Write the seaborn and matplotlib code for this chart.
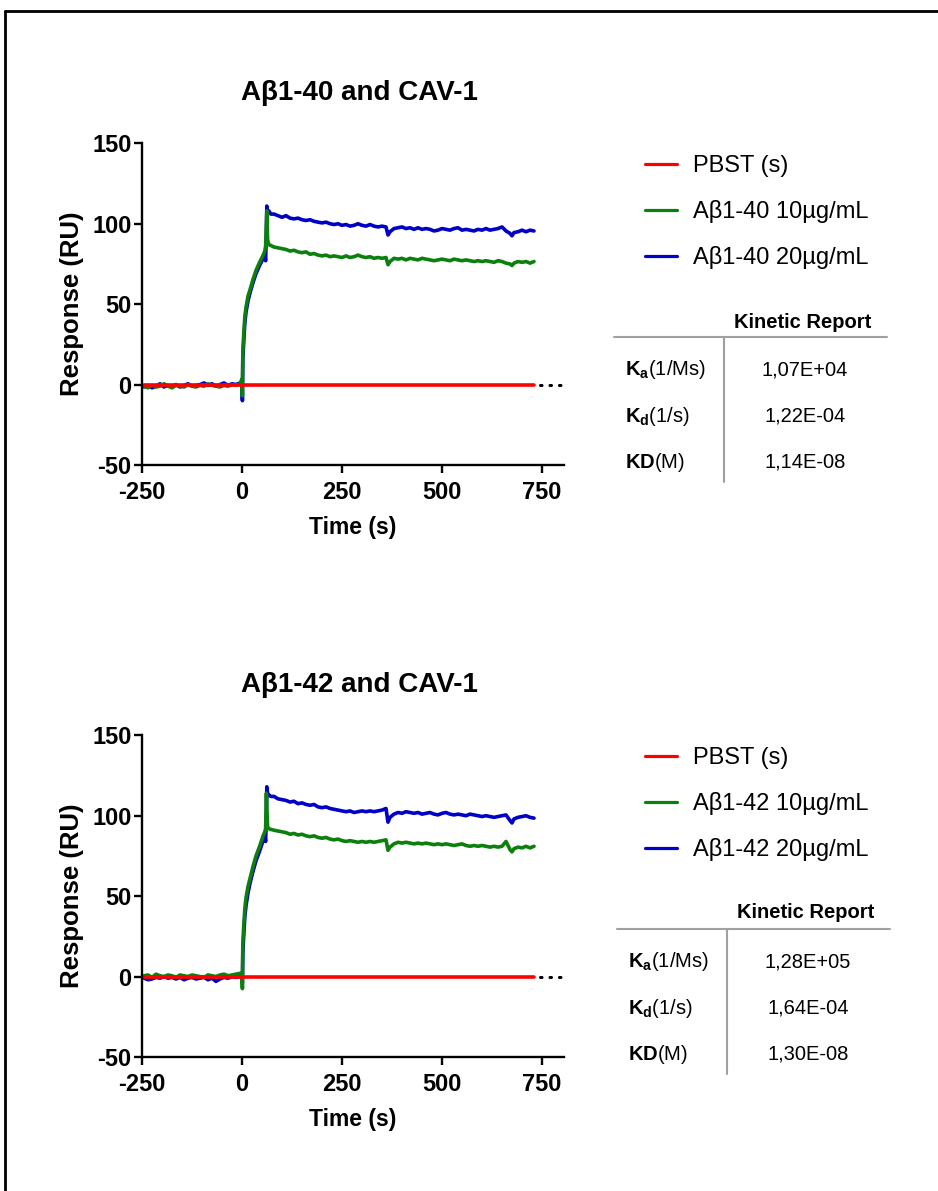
import pandas as pd
import matplotlib
matplotlib.use('Agg')
import matplotlib.pyplot as plt
from matplotlib.lines import Line2D
import seaborn as sns

W, H = 938, 1191

# sampling times (s) shared by the sensorgram traces
time_s = [-245, -235, -225, -215, -205, -195, -185, -175, -165, -155, -145, -135, -125,
          -115, -105, -95, -85, -75, -65, -55, -45, -35, -25, -15, -5,
          0, 1, 2, 4, 7, 10, 15, 20, 27, 35, 44, 52, 57, 59, 61, 62, 64, 67, 72, 80, 90,
          100, 110, 120, 130, 140, 150, 160, 170, 180, 190, 200, 210, 220, 230, 240, 250,
          260, 270, 280, 290, 300, 310, 320, 330, 340, 350, 360, 365, 370, 380, 390, 400,
          410, 420, 430, 440, 450, 460, 470, 480, 490, 500, 510, 520, 530, 540, 550, 560,
          570, 580, 590, 600, 610, 620, 630, 640, 650, 660, 670, 675, 680, 690, 700, 710,
          720, 730]

# Abeta 1-40 on CAV-1
ab40_20 = [-1.5, -0.5, -2, -1, 0.5, -1.5, -0.5, -1, 0, -1.5, -0.5, 0.5, -1, -0.5, 0,
           1, -0.5, 0.5, -1, 0, 1, -0.5, 0.5, 0, 1,
           1, -10, 15, 25, 38, 45, 52, 57, 63, 69, 74, 78, 81, 77, 95, 111, 107, 108, 106, 106, 105,
           104, 105, 103.5, 103, 103.5, 102.5, 102, 102.5, 101.5, 101, 100.5, 101, 100, 99.5,
           100, 99, 99.5, 98.5, 99, 100, 99, 98.5, 99.5, 98.5, 98, 98.5, 98, 93,
           95, 97, 97.5, 98, 97, 97.5, 96.5, 97.5, 96.5, 97, 96.5, 95.5, 96, 97, 96.5, 96,
           97, 97.5, 96, 96.5, 96, 95.5, 96.5, 96, 97, 96, 96.5, 97, 98, 95.5, 94, 92.5,
           94.5, 95, 96, 95, 96, 95.5]
ab40_10 = [-1, -2, -0.5, -1.5, -1, 0.5, -1, -2, -0.5, -1, -1.5, 0, -1, -1.5, -0.5,
           -1, 0.5, -0.5, -1, -1.5, -0.5, -1, 0, -0.5, 0.5,
           3.5, -7, 20, 30, 42, 48, 55, 59, 65, 71, 76, 80, 83, 86, 100, 108, 90, 87, 86.5, 85.5, 85,
           84.5, 84, 83, 83.5, 82.5, 82, 82.5, 81, 81.5, 80.5, 80, 80.5, 79.5, 80, 79.5,
           79, 80, 79, 79.5, 80.5, 79.5, 79, 79.5, 78.5, 79, 78.5, 79, 74.5,
           76.5, 78.5, 78, 78.5, 77.5, 78.5, 78, 77.5, 78.5, 78, 77.5, 77, 77.5, 78, 77.5,
           77, 78, 77.5, 77, 77.5, 77, 76.5, 77, 76.5, 77, 76.5, 76, 77, 76.5, 75.5, 75, 74,
           75.5, 76.5, 76, 76.5, 75.5, 76.5]

# Abeta 1-42 on CAV-1
ab42_20 = [-1, -2, -1.5, -0.5, -1, 0, -1, -0.5, -1.5, -0.5, -2, -1, -0.5, -1.5, -1,
           -0.5, -2, -1, -3, -1.5, -0.5, -1, 0, -0.5, 0,
           -1, -4, 14, 24, 37, 44, 52, 58, 65, 72, 78, 84, 88, 84, 100, 118, 114, 113, 112, 112, 110.5,
           110, 109.5, 108.5, 109, 107.5, 108, 107, 106.5, 107, 105.5, 105, 105.5, 104.5, 104,
           103.5, 103, 102.5, 103, 102, 102.5, 103, 102.5, 103, 102.5, 103, 103.5, 104.5, 96,
           99, 101, 102, 101.5, 102.5, 102, 101.5, 102, 101, 101.5, 102, 101, 100.5, 101.5,
           102, 101, 100.5, 101, 100.5, 100, 101, 100.5, 100, 99.5, 100, 99.5, 99, 99.5, 100,
           100.5, 97, 95.5,
           98, 99, 99.5, 100, 99, 98.5]
ab42_10 = [0.5, 1, -0.5, 1.5, 0.5, 0, 1, 0.5, -0.5, 1, 0.5, 0, 1, 0.5, 0,
           -0.5, 1, 0.5, 0, 1, 1.5, 0.5, 1, 1.5, 2,
           2, -7.5, 20, 30, 42, 49, 56, 61, 68, 75, 81, 87, 90, 92, 114, 105, 93, 92, 91.5, 91, 90.5,
           90, 89.5, 88.5, 89, 88, 88.5, 87.5, 87, 87.5, 86.5, 86, 86.5, 85.5, 85, 85.5,
           84.5, 84, 84.5, 84, 83.5, 84, 83.5, 84, 83.5, 84, 84.5, 85, 78.5,
           80.5, 82.5, 83.5, 83, 83.5, 83, 82.5, 83, 82.5, 83, 82.5, 82, 82.5, 82, 82.5,
           82, 81.5, 82, 82.5, 81.5, 81, 81.5, 81, 81.5, 81, 80.5, 81, 80.5, 81, 84, 79, 77.5,
           79.5, 80.5, 80, 81, 80, 81]

# buffer reference
pbst_time = [-245, 730]
pbst_ru = [0, 0]

titles = ['A\u03b21-40 and CAV-1', 'A\u03b21-42 and CAV-1']
peptides = ['A\u03b21-40', 'A\u03b21-42']
traces = [(ab40_10, ab40_20), (ab42_10, ab42_20)]

report_rows = [r'$\mathbf{K_a}$(1/Ms)', r'$\mathbf{K_d}$(1/s)', r'$\mathbf{KD}$(M)']
report_vals = [['1,07E+04', '1,22E-04', '1,14E-08'],
               ['1,28E+05', '1,64E-04', '1,30E-08']]

colors = ['#ff0000', '#0c800c', '#0000c8']

sns.set_theme(style='ticks')
plt.rcParams['font.family'] = ['Liberation Sans', 'DejaVu Sans']
plt.rcParams['mathtext.fontset'] = 'custom'
plt.rcParams['mathtext.rm'] = 'Liberation Sans'
plt.rcParams['mathtext.bf'] = 'Liberation Sans:bold'
plt.rcParams['axes.unicode_minus'] = False
for key in ['text.color', 'axes.labelcolor', 'xtick.color', 'ytick.color', 'axes.edgecolor']:
    plt.rcParams[key] = 'black'


def fx(x):
    return x / W


def fy(y):
    return 1 - y / H


fig = plt.figure(figsize=(W / 100, H / 100), dpi=100)

# page frame (top and left edges visible)
fig.add_artist(Line2D([fx(5), 1], [fy(11), fy(11)], transform=fig.transFigure, color='black', lw=2))
fig.add_artist(Line2D([fx(5), fx(5)], [fy(11), 0], transform=fig.transFigure, color='black', lw=2))

offsets = [0, 592]
table_dx = [0, 3]

for i in range(2):
    off = offsets[i]
    top, bottom = 143.3 + off, 465 + off
    ax = fig.add_axes([fx(142), fy(bottom), fx(564) - fx(142), (bottom - top) / H])

    lab10 = f'{peptides[i]} 10\u00b5g/mL'
    lab20 = f'{peptides[i]} 20\u00b5g/mL'
    lab0 = 'PBST (s)'
    y10, y20 = traces[i]
    df = pd.concat([
        pd.DataFrame({'time': time_s, 'ru': y20, 'series': lab20}),
        pd.DataFrame({'time': time_s, 'ru': y10, 'series': lab10}),
        pd.DataFrame({'time': pbst_time, 'ru': pbst_ru, 'series': lab0}),
    ])
    sns.lineplot(data=df, x='time', y='ru', hue='series',
                 hue_order=[lab20, lab10, lab0],
                 palette={lab0: colors[0], lab10: colors[1], lab20: colors[2]},
                 lw=2.6, ax=ax, legend=True)

    # dotted continuation of the baseline to the axis end
    ax.plot([pbst_time[-1] + 14, 800], [pbst_ru[-1]] * 2, color='black', lw=2.2,
            ls=(0, (0.5, 2.6)), dash_capstyle='round', clip_on=False)

    ax.set_xlim(-250, 805)
    ax.set_ylim(-50, 150)
    ax.set_xticks([-250, 0, 250, 500, 750])
    ax.set_yticks([-50, 0, 50, 100, 150])
    sns.despine(ax=ax)
    for s in ['left', 'bottom']:
        ax.spines[s].set_linewidth(1.7)
        ax.spines[s].set_color('black')
    ax.tick_params(axis='both', direction='out', length=6, width=1.7, color='black',
                   labelsize=17, labelcolor='black')
    ax.tick_params(axis='x', pad=5.5)
    ax.tick_params(axis='y', pad=1.5)
    for t in ax.get_xticklabels() + ax.get_yticklabels():
        t.set_fontweight('bold')

    ax.set_xlabel('Time (s)', fontsize=16.5, fontweight='bold', color='black')
    ax.set_ylabel('Response (RU)', fontsize=18.5, fontweight='bold', color='black')
    ax.xaxis.set_label_coords(0.5, -0.16)
    ax.yaxis.set_label_coords(-0.138, 0.5)

    fig.text(fx(359), fy(100 + off), titles[i], ha='center', va='baseline',
             fontsize=20, fontweight='bold')

    handles, labels = ax.get_legend_handles_labels()
    ax.get_legend().remove()
    order = [labels.index(lab0), labels.index(lab10), labels.index(lab20)]
    leg = ax.legend([handles[k] for k in order], [labels[k] for k in order],
                    loc='upper left', bbox_to_anchor=(fx(645), fy(155 + off)),
                    bbox_transform=fig.transFigure, frameon=False, fontsize=17,
                    handlelength=1.36, handletextpad=0.68, labelspacing=0.98,
                    borderpad=0, borderaxespad=0)
    for h in leg.get_lines():
        h.set_linewidth(2.3)

    # kinetic report table
    dx = table_dx[i]
    gray = '#a0a0a0'
    fig.text(fx(802.5 + dx), fy(328 + off - (1 if i else 0) * 2), 'Kinetic Report', ha='center',
             va='baseline', fontsize=14.5, fontweight='bold')
    fig.add_artist(Line2D([fx(614 + dx), fx(887 + dx)], [fy(337 + off), fy(337 + off)],
                          transform=fig.transFigure, color=gray, lw=1.5))
    fig.add_artist(Line2D([fx(724 + dx), fx(724 + dx)], [fy(337 + off), fy(482 + off)],
                          transform=fig.transFigure, color=gray, lw=1.5))
    for r, (name, val) in enumerate(zip(report_rows, report_vals[i])):
        base = 375 + 46.5 * r + off
        fig.text(fx(625 + dx), fy(base), name, ha='left', va='baseline', fontsize=14.5)
        fig.text(fx(805 + dx), fy(base), val, ha='center', va='baseline', fontsize=14.5)

fig.savefig('out.png', dpi=100)
